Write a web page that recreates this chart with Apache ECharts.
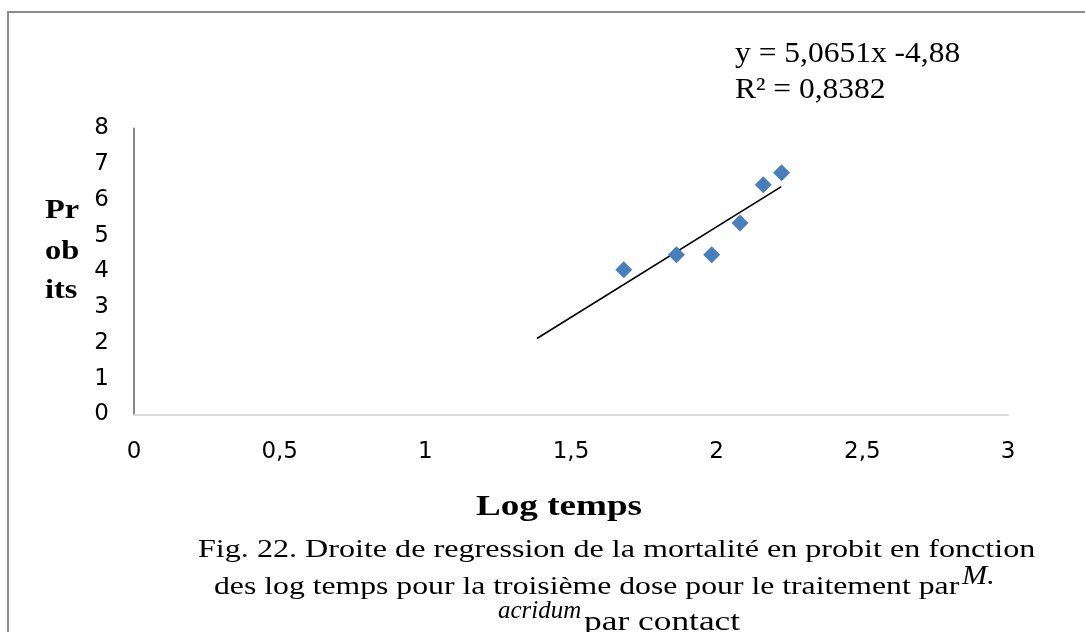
<!DOCTYPE html>
<html>
<head>
<meta charset="utf-8">
<script src="https://cdn.jsdelivr.net/npm/echarts@6/dist/echarts.min.js"></script>
<style>
  html, body { margin: 0; padding: 0; background: #fff; }
  #chart { width: 1085px; height: 632px; }
</style>
</head>
<body>
<div id="chart"></div>
<script>
// Log of exposure time vs. mortality probit
const logTemps = [1.681, 1.862, 1.983, 2.080, 2.160, 2.223];
const probits  = [4.05, 4.47, 4.47, 5.36, 6.43, 6.76];

// Linear regression y = a x + b, drawn over this x-range
const slope = 5.0651;
const intercept = -4.88;
const rSquared = '0,8382';
const trendRange = [1.383, 2.222];

const xTicks = [0, 0.5, 1, 1.5, 2, 2.5, 3];
const yTicks = [0, 1, 2, 3, 4, 5, 6, 7, 8];

const trendData = trendRange.map(x => [x, slope * x + intercept]);
const fmt = v => String(v).replace('.', ',');

const serif = '"Liberation Serif", "Times New Roman", serif';
const sans = '"DejaVu Sans", sans-serif';

// text helper: left-anchored, vertically centred on y, stretched by sx
function label(text, x, y, font, sx) {
  return {
    type: 'text', silent: true, x: x, y: y, scaleX: sx || 1,
    style: { text: text, font: font, fill: '#000', textAlign: 'left', textVerticalAlign: 'middle' }
  };
}

const chart = echarts.init(document.getElementById('chart'), null, { renderer: 'canvas' });
chart.setOption({
  backgroundColor: '#ffffff',
  animation: false,
  grid: { left: 134, right: 77, top: 128.5, bottom: 217.5, containLabel: false },
  xAxis: {
    type: 'value',
    min: xTicks[0], max: xTicks[xTicks.length - 1], interval: 0.5,
    axisLine: { show: true, onZero: false, lineStyle: { color: '#d9d9d9', width: 2 } },
    axisTick: { show: false },
    splitLine: { show: false },
    axisLabel: { color: '#000', fontFamily: sans, fontSize: 23, margin: 26, formatter: fmt }
  },
  yAxis: {
    type: 'value',
    min: yTicks[0], max: yTicks[yTicks.length - 1], interval: 1,
    axisLine: { show: true, lineStyle: { color: '#868686', width: 2 } },
    axisTick: { show: false },
    splitLine: { show: false },
    axisLabel: { color: '#000', fontFamily: sans, fontSize: 23, margin: 25 }
  },
  series: [
    {
      type: 'line',
      data: trendData,
      symbol: 'none',
      lineStyle: { color: '#000', width: 1.6 },
      silent: true,
      z: 2
    },
    {
      type: 'scatter',
      data: logTemps.map((x, i) => [x, probits[i]]),
      symbol: 'diamond',
      symbolSize: [17, 17],
      itemStyle: { color: '#4A7EBB', opacity: 1 },
      z: 3
    }
  ],
  graphic: [
    {
      type: 'rect', silent: true,
      shape: { x: 8, y: 12, width: 1200, height: 800 },
      style: { fill: 'none', stroke: '#8c8c8c', lineWidth: 2 }
    },
    // regression equation
    label('y = 5,0651x -4,88', 735, 54, '30px ' + serif, 1.05),
    label('R² = ' + rSquared, 735, 90, '30px ' + serif, 1.05),
    // y-axis title, wrapped
    label('Pr', 45, 211, 'bold 27px ' + serif, 1.2),
    label('ob', 45, 252, 'bold 27px ' + serif, 1.2),
    label('its', 45, 291, 'bold 27px ' + serif, 1.2),
    // x-axis title
    label('Log temps', 476, 508, 'bold 29px ' + serif, 1.28),
    // caption
    label('Fig. 22. Droite de regression de la mortalité en probit en fonction', 198, 550, '26px ' + serif, 1.235),
    label('des log temps pour la troisième dose pour le traitement par', 214, 587, '26px ' + serif, 1.22),
    label('M.', 962, 577, 'italic 27px ' + serif, 1.12),
    label('acridum', 498, 611, 'italic 26px ' + serif, 0.96),
    label('par contact', 584, 623, '27px ' + serif, 1.31)
  ]
});
</script>
</body>
</html>
